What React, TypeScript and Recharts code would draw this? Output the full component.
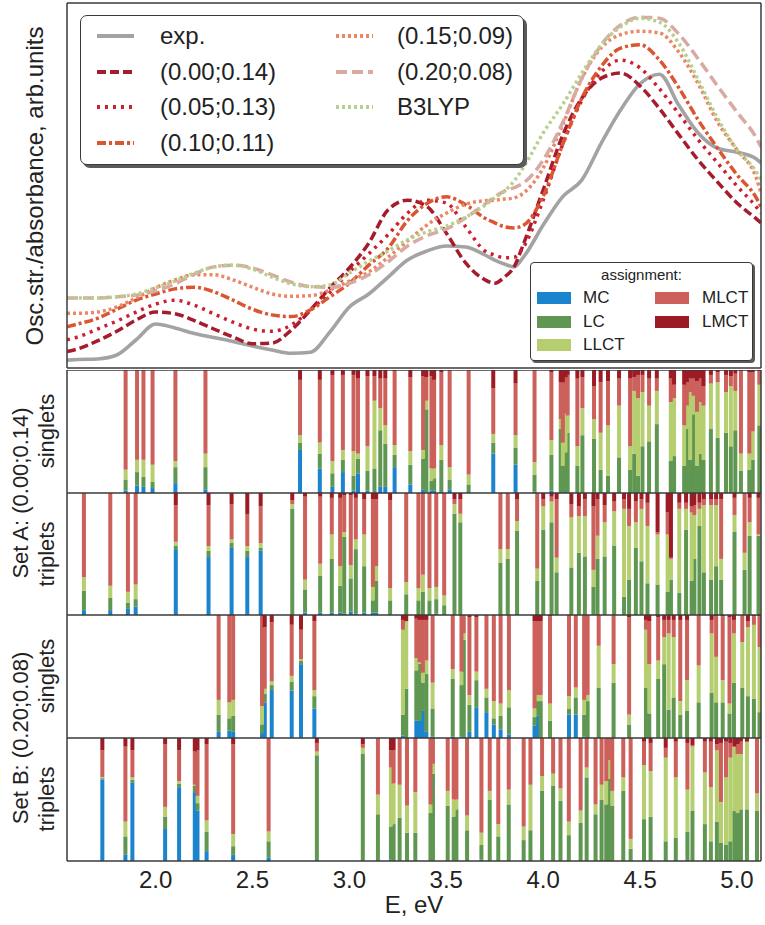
import React from 'react';
import { LineChart, Line, XAxis, YAxis, BarChart, Bar } from 'recharts';

// ---------------- data: top panel spectra ----------------
const energyGrid = [1.543, 1.6, 1.7, 1.8, 1.9, 2.0, 2.1, 2.2, 2.3, 2.4, 2.5, 2.6, 2.7, 2.8, 2.9, 3.0, 3.1, 3.2, 3.3, 3.4, 3.5, 3.6, 3.7, 3.75, 3.8, 3.85, 3.9, 4.0, 4.1, 4.2, 4.3, 4.4, 4.5, 4.6, 4.7, 4.8, 4.9, 5.0, 5.1, 5.124];
const expSpectrum = [-0.12, -0.11, -0.1, -0.03, 0.24, 0.52, 0.45, 0.35, 0.28, 0.21, 0.13, 0.06, 0.0, 0.02, 0.38, 0.82, 1.05, 1.35, 1.65, 1.81, 1.9, 1.88, 1.74, 1.65, 1.58, 1.53, 1.71, 2.27, 2.77, 3.07, 3.72, 4.31, 4.77, 4.94, 4.39, 3.9, 3.63, 3.56, 3.44, 3.37];
const calc000014 = [0.03, 0.08, 0.22, 0.39, 0.59, 0.73, 0.7, 0.58, 0.43, 0.29, 0.17, 0.18, 0.41, 0.77, 1.16, 1.51, 1.95, 2.54, 2.71, 2.6, 2.13, 1.6, 1.3, 1.24, 1.35, 1.53, 1.95, 2.89, 3.85, 4.52, 4.87, 4.96, 4.73, 4.33, 3.87, 3.42, 3.03, 2.66, 2.38, 2.31];
const calc005013 = [0.24, 0.29, 0.43, 0.57, 0.73, 0.87, 0.94, 0.85, 0.7, 0.55, 0.43, 0.39, 0.5, 0.77, 1.08, 1.44, 1.76, 2.1, 2.48, 2.71, 2.66, 2.24, 1.81, 1.74, 1.69, 1.7, 1.89, 2.71, 3.69, 4.48, 4.98, 5.19, 5.05, 4.68, 4.24, 3.78, 3.37, 2.96, 2.59, 2.48];
const calc010011 = [0.47, 0.52, 0.62, 0.78, 0.94, 1.05, 1.14, 1.17, 1.09, 0.94, 0.78, 0.68, 0.65, 0.77, 1.0, 1.24, 1.56, 1.86, 2.35, 2.65, 2.77, 2.63, 2.39, 2.31, 2.24, 2.22, 2.27, 2.78, 3.69, 4.52, 5.08, 5.4, 5.46, 5.19, 4.7, 4.13, 3.63, 3.16, 2.75, 2.59];
const calc015009 = [0.71, 0.71, 0.73, 0.82, 0.98, 1.16, 1.3, 1.39, 1.39, 1.3, 1.17, 1.05, 1.01, 1.02, 1.12, 1.28, 1.44, 1.7, 1.99, 2.27, 2.48, 2.64, 2.7, 2.71, 2.73, 2.75, 2.84, 3.28, 4.04, 4.87, 5.41, 5.64, 5.7, 5.67, 5.33, 4.77, 4.09, 3.6, 3.1, 2.84];
const calc020008 = [0.98, 0.98, 0.98, 1.0, 1.03, 1.1, 1.23, 1.4, 1.53, 1.56, 1.51, 1.39, 1.26, 1.18, 1.17, 1.24, 1.39, 1.62, 1.9, 2.08, 2.2, 2.4, 2.64, 2.77, 2.87, 2.93, 3.02, 3.42, 4.08, 4.87, 5.46, 5.81, 5.95, 5.93, 5.65, 5.21, 4.73, 4.27, 3.81, 3.65];
const calcB3LYP = [0.98, 0.98, 0.98, 1.0, 1.05, 1.16, 1.28, 1.42, 1.53, 1.56, 1.49, 1.35, 1.23, 1.18, 1.21, 1.42, 1.63, 1.81, 2.01, 2.15, 2.25, 2.41, 2.62, 2.75, 2.87, 3.05, 3.3, 3.9, 4.4, 4.96, 5.46, 5.78, 5.93, 5.86, 5.49, 4.84, 4.16, 3.6, 3.21, 3.07];

const seriesNames = ['exp.', '(0.00;0.14)', '(0.05;0.13)', '(0.10;0.11)', '(0.15;0.09)', '(0.20;0.08)', 'B3LYP'];
const seriesValues = [expSpectrum, calc000014, calc005013, calc010011, calc015009, calc020008, calcB3LYP];

// ---------------- data: transition assignments ----------------
// [E (eV), MC, LC, LLCT, MLCT, LMCT]
const assignmentNames = ['MC', 'LC', 'LLCT', 'MLCT', 'LMCT'];

const setASinglets = [
  [1.846, .02, .09, .08, .81, 0], [1.905, .06, .11, .10, .73, 0], [1.938, .05, .08, .14, .73, 0], [1.985, .04, .05, .14, .77, 0],
  [2.103, .08, .13, .05, .74, 0], [2.258, .03, .18, .11, .68, 0], [2.746, .35, .06, .06, .45, .08], [2.848, .20, .12, .09, .51, .08],
  [2.913, .05, .11, .10, .70, .04], [2.967, .17, .10, .08, .61, .04], [3.022, .02, .12, .20, .62, .04], [3.045, .16, .12, .04, .61, .07],
  [3.094, .02, .16, .20, .57, .05], [3.13, 0, .2, .55, .2, .05], [3.16, .05, .46, .18, .24, .07], [3.186, .05, .35, .15, .38, .07],
  [3.234, .21, .10, .08, .60, .01], [3.315, .07, .16, .11, .60, .06], [3.381, .03, .25, .07, .60, .05], [3.398, 0, .68, .07, .19, .06],
  [3.424, .02, .08, .10, .75, .05], [3.438, .02, .10, .08, .72, .08], [3.475, 0, .27, .12, .59, .02], [3.518, .03, .08, .10, .79, 0],
  [3.616, 0, .07, .08, .85, 0], [3.743, .32, .09, .07, .37, .15], [3.858, .23, .14, .10, .42, .11], [3.956, .01, .14, .10, .75, 0],
  [4.043, .02, .29, .12, .55, .02], [4.091, 0, .52, .08, .30, .10], [4.102, 0, .22, .19, .49, .10], [4.116, .03, .30, .32, .29, .06],
  [4.127, 0, .49, .14, .33, .04], [4.177, 0, .22, .16, .55, .07], [4.203, 0, .47, .22, .25, .06], [4.263, 0, .44, .16, .27, .13],
  [4.297, 0, .19, .30, .41, .10], [4.335, 0, .14, .41, .36, .09], [4.392, 0, .29, .42, .22, .07], [4.449, 0, .19, .19, .55, .07],
  [4.470, 0, .32, .51, .11, .06], [4.490, 0, .14, .63, .19, .04], [4.513, 0, .38, .44, .14, .04], [4.547, 0, .42, .29, .22, .07],
  [4.587, 0, .56, .27, .10, .07], [4.659, 0, .26, .48, .19, .07], [4.676, 0, .30, .47, .11, .12], [4.728, 0, .22, .33, .33, .12],
  [4.742, 0, .52, .19, .19, .10], [4.759, 0, .27, .55, .11, .07], [4.777, 0, .64, .15, .14, .07], [4.794, 0, .22, .44, .25, .09],
  [4.811, 0, .32, .42, .19, .07], [4.828, 0, .27, .44, .16, .13], [4.866, 0, .52, .37, .07, .04], [4.901, 0, .45, .45, .08, .02],
  [4.944, 0, .49, .33, .14, .04], [4.969, 0, .38, .49, .08, .05], [4.992, 0, .51, .32, .14, .03], [5.021, 0, .18, .14, .67, .01],
  [5.064, 0, .19, .13, .66, .02], [5.082, 0, .27, .23, .48, .02], [5.116, 0, .55, .33, .11, .01],
];

const setATriplets = [
  [1.631, .04, .16, .11, .69, 0], [1.767, .04, .10, .10, .76, 0], [1.858, .05, .05, .09, .81, 0], [1.898, .07, .06, .12, .75, 0],
  [2.105, .54, .03, .03, .30, .10], [2.274, .47, .05, .04, .33, .10], [2.393, .55, .04, .03, .29, .09], [2.474, .47, .05, .04, .26, .17],
  [2.543, .53, .02, .04, .30, .11], [2.706, 0, .87, .04, .03, .06], [2.772, .02, .19, .08, .68, .03], [2.85, .02, .30, .10, .55, .03],
  [2.91, .02, .44, .20, .30, .04], [2.953, .02, .22, .16, .56, .04], [2.974, .01, .63, .04, .30, .02], [3.008, .03, .27, .11, .57, .02],
  [3.034, .01, .53, .08, .34, .04], [3.077, .02, .38, .26, .29, .05], [3.122, .02, .10, .11, .72, .05], [3.139, .02, .26, .12, .55, .05],
  [3.211, 0, .12, .10, .72, .06], [3.294, 0, .17, .10, .73, 0], [3.357, 0, .12, .10, .78, 0], [3.38, 0, .19, .14, .67, 0],
  [3.414, 0, .12, .10, .78, 0], [3.449, .01, .12, .10, .77, 0], [3.49, 0, .08, .08, .84, 0], [3.543, 0, .83, .08, .04, .05],
  [3.573, 0, .76, .07, .12, .05], [3.78, 0, .43, .11, .46, 0], [3.818, 0, .46, .08, .46, 0], [3.866, 0, .69, .08, .18, .05],
  [3.97, 0, .28, .10, .62, 0], [4.001, 0, .70, .19, .06, .05], [4.044, 0, .76, .17, .04, .03], [4.07, 0, .35, .12, .48, .05],
  [4.146, 0, .39, .41, .11, .09], [4.185, 0, .51, .30, .08, .11], [4.216, 0, .48, .33, .14, .05], [4.26, 0, .23, .14, .52, .11],
  [4.281, 0, .46, .19, .30, .05], [4.318, 0, .48, .28, .14, .10], [4.367, 0, .57, .28, .08, .07], [4.418, 0, .15, .72, .08, .05],
  [4.444, 0, .29, .44, .14, .13], [4.479, 0, .55, .21, .17, .07], [4.508, 0, .44, .43, .08, .05], [4.539, 0, .26, .47, .19, .08],
  [4.591, 0, .25, .41, .02, .32], [4.643, 0, .19, .47, .18, .16], [4.66, 0, .29, .17, .01, .53], [4.703, 0, .18, .69, .05, .08],
  [4.738, 0, .70, .17, .05, .08], [4.767, 0, .28, .56, .05, .11], [4.781, 0, .46, .36, .08, .10], [4.807, 0, .73, .14, .05, .08],
  [4.83, 0, .35, .55, .05, .05], [4.867, 0, .29, .61, .05, .05], [4.893, 0, .40, .50, .05, .05], [4.919, 0, .29, .17, .49, .05],
  [4.988, 0, .68, .14, .14, .04], [5.04, 0, .37, .14, .49, 0], [5.066, 0, .65, .11, .20, .04], [5.112, 0, .65, .01, .30, .04],
];

const setBSinglets = [
  [2.326, .05, .14, .12, .69, 0], [2.381, .06, .10, .13, .71, 0], [2.401, .05, .13, .13, .69, 0], [2.55, .04, .07, .15, .74, 0],
  [2.564, .29, .07, .04, .50, .10], [2.6, .39, .04, .03, .48, .06], [2.703, .39, .07, .05, .42, .08], [2.751, .60, .03, .01, .24, .12],
  [2.82, .24, .10, .05, .56, .05], [3.277, .02, .17, .69, .08, .04], [3.294, 0, .40, .55, 0, .05], [3.346, .14, .41, .10, .32, .03],
  [3.363, .14, .47, .01, .35, .04], [3.38, .22, .23, .08, .43, .04], [3.398, .05, .47, .11, .33, .04], [3.43, .01, .23, .21, .55, 0],
  [3.534, .01, .47, .08, .44, 0], [3.579, .01, .42, .11, .46, 0], [3.591, 0, .80, .05, .15, 0], [3.62, .05, .22, .08, .63, .02],
  [3.656, .25, .22, .07, .44, .02], [3.708, .21, .12, .07, .60, 0], [3.746, .11, .05, .14, .70, 0], [3.781, .07, .11, .10, .72, 0],
  [3.824, .03, .22, .14, .61, 0], [3.956, .10, .07, .07, .71, .05], [3.974, .18, .12, .05, .60, .05], [3.988, 0, .30, .05, .60, .05],
  [4.036, 0, .14, .14, .71, .01], [4.134, .19, .05, .10, .66, 0], [4.169, .19, .14, .08, .59, 0], [4.212, .01, .18, .12, .69, 0],
  [4.23, 0, .30, .05, .65, 0], [4.287, 0, .41, .34, .25, 0], [4.364, 0, .45, .15, .40, 0], [4.444, 0, .11, .08, .79, .02],
  [4.531, 0, .41, .47, .08, .04], [4.548, 0, .20, .40, .35, .05], [4.594, 0, .48, .15, .35, .02], [4.625, 0, .60, .22, .14, .04],
  [4.648, 0, .23, .62, .11, .04], [4.674, 0, .33, .49, .14, .04], [4.708, 0, .19, .11, .66, .04], [4.743, 0, .22, .25, .49, .04],
  [4.803, 0, .29, .30, .41, 0], [4.87, 0, .37, .48, .11, .04], [4.893, 0, .29, .37, .33, .01], [4.927, 0, .29, .18, .52, .01],
  [4.962, 0, .20, .08, .70, .02], [4.985, 0, .45, .40, .11, .04], [5.028, 0, .41, .37, .22, 0], [5.057, 0, .34, .56, .05, .05],
  [5.088, 0, .32, .60, .07, .01], [5.117, 0, .21, .53, .25, .01],
];

const setBTriplets = [
  [1.726, .67, .01, .01, .22, .10], [1.845, .05, .15, .12, .61, .07], [1.881, .64, .02, .02, .22, .10], [2.05, .26, .10, .08, .51, .05],
  [2.122, .60, .03, .02, .25, .10], [2.203, .56, .05, .01, .27, .11], [2.217, .41, .06, .06, .37, .10], [2.264, .08, .16, .09, .62, .05],
  [2.401, .05, .07, .10, .73, .05], [2.584, .03, .13, .08, .76, 0], [2.833, 0, .86, .03, .07, .04], [3.07, 0, .87, .05, .03, .05],
  [3.148, 0, .38, .16, .46, 0], [3.215, .01, .27, .48, .14, .10], [3.229, 0, .30, .33, .27, .10], [3.26, 0, .35, .27, .38, 0],
  [3.298, 0, .23, .22, .55, 0], [3.341, 0, .23, .33, .44, 0], [3.419, 0, .39, .07, .54, 0], [3.432, 0, .71, .08, .21, 0],
  [3.508, 0, .45, .12, .43, 0], [3.539, 0, .36, .14, .50, 0], [3.553, 0, .42, .08, .50, 0], [3.608, 0, .25, .12, .63, 0],
  [3.682, .01, .12, .10, .77, 0], [3.725, 0, .50, .07, .43, 0], [3.769, 0, .20, .10, .70, 0], [3.823, 0, .46, .12, .42, 0],
  [3.9, 0, .17, .11, .72, 0], [3.935, 0, .25, .37, .38, 0], [3.995, 0, .57, .12, .31, 0], [4.052, 0, .61, .10, .29, 0],
  [4.09, 0, .49, .10, .41, 0], [4.133, 0, .21, .11, .68, 0], [4.194, 0, .31, .10, .59, 0], [4.225, 0, .68, .08, .24, 0],
  [4.271, 0, .38, .08, .54, 0], [4.302, 0, .50, .12, .38, 0], [4.326, 0, .46, .19, .35, 0], [4.34, 0, .67, .15, .18, 0],
  [4.357, 0, .45, .12, .43, 0], [4.414, 0, .57, .11, .32, 0], [4.452, 0, .10, .08, .82, 0], [4.521, 0, .34, .44, .19, .03],
  [4.555, 0, .36, .37, .23, .04], [4.633, 0, .16, .68, .08, .08], [4.685, 0, .19, .49, .29, .03], [4.745, 0, .24, .34, .38, .04],
  [4.771, 0, .41, .52, .01, .06], [4.835, 0, .30, .42, .25, .03], [4.866, 0, .16, .44, .37, .03], [4.897, 0, .32, .58, .05, .05],
  [4.918, 0, .15, .33, .48, .04], [4.944, 0, .13, .55, .29, .03], [4.966, 0, .16, .68, .12, .04], [4.987, 0, .41, .52, 0, .07],
  [5.004, 0, .39, .48, .08, .05], [5.021, 0, .42, .45, .10, .03], [5.052, 0, .42, .55, 0, .03], [5.104, 0, .41, .14, .45, 0],
];

const xTicks = [2.0, 2.5, 3.0, 3.5, 4.0, 4.5, 5.0];
const yTicks = [0, 1, 2, 3, 4, 5, 6];

// ---------------- styling ----------------
const X_DOMAIN: [number, number] = [1.543, 5.124];
const Y_DOMAIN: [number, number] = [-0.26, 6.2];
const FONT = '"Liberation Sans", Arial, Helvetica, sans-serif';
const FRAME = '#3a3a3a';
const TICK = '#777777';
const TEXT = '#222222';
const W = 765;
const MARGIN_L = 67;
const MARGIN_R = 4;

const lineStyles = [
  { color: '#a3a3a3', dash: undefined as string | undefined, width: 3.6 },
  { color: '#a51d2d', dash: '9 4', width: 3.5 },
  { color: '#cc1f30', dash: '3 5', width: 3.5 },
  { color: '#da5530', dash: '9 3 3 3', width: 3.5 },
  { color: '#ea8764', dash: '3 3', width: 3.5 },
  { color: '#d9a9a4', dash: '11 5', width: 3.5 },
  { color: '#b8d08d', dash: '3 3', width: 3.5 },
];
const assignColors: Record<string, string> = {
  MC: '#1b84cc',
  LC: '#5f9752',
  LLCT: '#b5ce6f',
  MLCT: '#cc605b',
  LMCT: '#9c1b24',
};

const lineData = energyGrid.map((E, i) => {
  const row: Record<string, number> = { E };
  seriesValues.forEach((vals, k) => { row['s' + k] = vals[i]; });
  return row;
});

const toBarRows = (rows: number[][]) =>
  rows.map(([E, ...parts]) => {
    const total = parts.reduce((a, b) => a + b, 0) || 1;
    const row: Record<string, number> = { E };
    assignmentNames.forEach((n, k) => { row[n] = parts[k] / total; });
    return row;
  });

const ThinBar = (props: any) => {
  const { x, y, width, height, fill } = props;
  if (height == null || !(height > 0)) return <g />;
  const cx = x + width / 2;
  return <rect x={cx - 2} y={y} width={4} height={height} fill={fill} />;
};

const axisLineStyle = { stroke: FRAME, strokeWidth: 1.5 };
const tickLineStyle = { stroke: TICK, strokeWidth: 1 };

function SpectraPanel() {
  return (
    <div style={{ position: 'absolute', left: 0, top: 0 }}>
      <LineChart width={W} height={372} data={lineData} margin={{ top: 3, right: MARGIN_R, bottom: 4, left: MARGIN_L }}>
        <XAxis xAxisId="b" type="number" dataKey="E" domain={X_DOMAIN} ticks={xTicks} allowDataOverflow orientation="bottom" mirror tick={false} tickSize={6} tickLine={tickLineStyle} axisLine={axisLineStyle} />
        <XAxis xAxisId="t" type="number" dataKey="E" domain={X_DOMAIN} ticks={xTicks} allowDataOverflow orientation="top" mirror tick={false} tickSize={6} tickLine={tickLineStyle} axisLine={axisLineStyle} />
        <YAxis yAxisId="l" type="number" domain={Y_DOMAIN} ticks={yTicks} allowDataOverflow orientation="left" mirror tick={false} tickSize={6} tickLine={tickLineStyle} axisLine={axisLineStyle} />
        <YAxis yAxisId="r" type="number" domain={Y_DOMAIN} ticks={yTicks} allowDataOverflow orientation="right" mirror tick={false} tickSize={6} tickLine={tickLineStyle} axisLine={axisLineStyle} />
        {seriesNames.map((name, k) => (
          <Line key={name} name={name} xAxisId="b" yAxisId="l" dataKey={'s' + k} type="monotone"
            stroke={lineStyles[k].color} strokeWidth={lineStyles[k].width} strokeDasharray={lineStyles[k].dash}
            dot={false} activeDot={false} isAnimationActive={false} />
        ))}
      </LineChart>
    </div>
  );
}

function AssignPanel({ rows, top, plotHeight, withLabels }: { rows: number[][]; top: number; plotHeight: number; withLabels?: boolean }) {
  const data = toBarRows(rows);
  const labelAxisH = 40;
  const height = withLabels ? 925 - top : plotHeight;
  const bottom = withLabels ? height - plotHeight - labelAxisH : 0;
  return (
    <div style={{ position: 'absolute', left: 0, top }}>
      <BarChart width={W} height={height} data={data} margin={{ top: 0, right: MARGIN_R, bottom, left: MARGIN_L }} barGap={0} barCategoryGap={0}>
        <XAxis xAxisId="b" type="number" dataKey="E" domain={X_DOMAIN} ticks={xTicks} allowDataOverflow orientation="bottom" mirror tick={false} tickSize={6} tickLine={tickLineStyle} axisLine={axisLineStyle} />
        <XAxis xAxisId="t" type="number" dataKey="E" domain={X_DOMAIN} ticks={xTicks} allowDataOverflow orientation="top" mirror tick={false} tickSize={6} tickLine={tickLineStyle} axisLine={axisLineStyle} />
        {withLabels ? (
          <XAxis xAxisId="lbl" type="number" dataKey="E" domain={X_DOMAIN} ticks={xTicks} allowDataOverflow orientation="bottom" height={labelAxisH}
            tickSize={0} tickMargin={10} tickLine={false} axisLine={false}
            tickFormatter={(v: number) => v.toFixed(1)}
            tick={{ fontSize: 24, fill: TEXT, fontFamily: FONT }}
            label={{ value: 'E, eV', position: 'bottom', offset: -5, fontSize: 24, fill: TEXT, fontFamily: FONT }} />
        ) : null}
        <YAxis yAxisId="l" type="number" domain={[0, 1]} allowDataOverflow orientation="left" mirror tick={false} tickLine={false} axisLine={axisLineStyle} />
        <YAxis yAxisId="r" type="number" domain={[0, 1]} allowDataOverflow orientation="right" mirror tick={false} tickLine={false} axisLine={axisLineStyle} />
        {assignmentNames.map((n) => (
          <Bar key={n} dataKey={n} stackId="s" xAxisId="b" yAxisId="l" fill={assignColors[n]} barSize={4}
            shape={ThinBar} isAnimationActive={false} />
        ))}
      </BarChart>
    </div>
  );
}

function LineLegend() {
  const rowY = [20, 55.5, 91, 126.5];
  return (
    <div style={{ position: 'absolute', left: 80, top: 15, width: 444, height: 150, border: `1.5px solid ${FRAME}`, borderRadius: 7, background: '#fff', boxShadow: '3px 3px 0 #5a5a5a', boxSizing: 'border-box', fontFamily: FONT }}>
      {seriesNames.map((name, i) => {
        const col = i < 4 ? 0 : 1;
        const row = i < 4 ? i : i - 4;
        const sx = col === 0 ? 16 : 255;
        const tx = col === 0 ? 79 : 316;
        const st = lineStyles[i];
        return (
          <React.Fragment key={name}>
            <svg style={{ position: 'absolute', left: sx, top: rowY[row] - 6 }} width={38} height={12}>
              <line x1={0} y1={6} x2={37} y2={6} stroke={st.color} strokeWidth={st.width + 0.4} strokeDasharray={st.dash} />
            </svg>
            <div style={{ position: 'absolute', left: tx, top: rowY[row] - 15, height: 30, lineHeight: '30px', fontSize: 24, color: TEXT, whiteSpace: 'nowrap' }}>{name}</div>
          </React.Fragment>
        );
      })}
    </div>
  );
}

function AssignLegend() {
  const rowY = [35, 58.5, 82];
  return (
    <div style={{ position: 'absolute', left: 530, top: 262, width: 223, height: 99, border: `1.5px solid ${FRAME}`, borderRadius: 4, background: '#fff', boxShadow: '2px 2px 0 #5a5a5a', boxSizing: 'border-box', fontFamily: FONT }}>
      <div style={{ position: 'absolute', left: 0, width: 221, top: 3, textAlign: 'center', fontSize: 15, color: TEXT }}>assignment:</div>
      {assignmentNames.map((n, i) => {
        const col = i < 3 ? 0 : 1;
        const row = i < 3 ? i : i - 3;
        const sx = col === 0 ? 6 : 124;
        const tx = col === 0 ? 52 : 171;
        return (
          <React.Fragment key={n}>
            <div style={{ position: 'absolute', left: sx, top: rowY[row] - 6, width: 34, height: 12, background: assignColors[n] }} />
            <div style={{ position: 'absolute', left: tx, top: rowY[row] - 11, height: 22, lineHeight: '22px', fontSize: 17, color: TEXT }}>{n}</div>
          </React.Fragment>
        );
      })}
    </div>
  );
}

function SideLabels() {
  const t = (x: number, y: number, s: string, size: number) => (
    <text x={x} y={y} transform={`rotate(-90 ${x} ${y})`} textAnchor="middle" dominantBaseline="central" fontSize={size} fill={TEXT} fontFamily={FONT}>{s}</text>
  );
  return (
    <svg style={{ position: 'absolute', left: 0, top: 0, pointerEvents: 'none' }} width={W} height={925}>
      {t(34, 186, 'Osc.str./absorbance, arb.units', 24)}
      {t(46, 431, 'singlets', 22)}
      {t(46, 554, 'triplets', 22)}
      {t(46, 676, 'singlets', 22)}
      {t(46, 799, 'triplets', 22)}
      {t(20, 493, 'Set A: (0.00;0.14)', 22)}
      {t(20, 738, 'Set B: (0.20;0.08)', 22)}
    </svg>
  );
}

export default function App() {
  return (
    <div style={{ position: 'absolute', left: 0, top: 0, width: W, height: 925, background: '#fff', fontFamily: FONT }}>
      <SpectraPanel />
      <AssignPanel rows={setASinglets} top={370} plotHeight={123} />
      <AssignPanel rows={setATriplets} top={493} plotHeight={122} />
      <AssignPanel rows={setBSinglets} top={615} plotHeight={123} />
      <AssignPanel rows={setBTriplets} top={738} plotHeight={123} withLabels />
      <LineLegend />
      <AssignLegend />
      <SideLabels />
    </div>
  );
}
